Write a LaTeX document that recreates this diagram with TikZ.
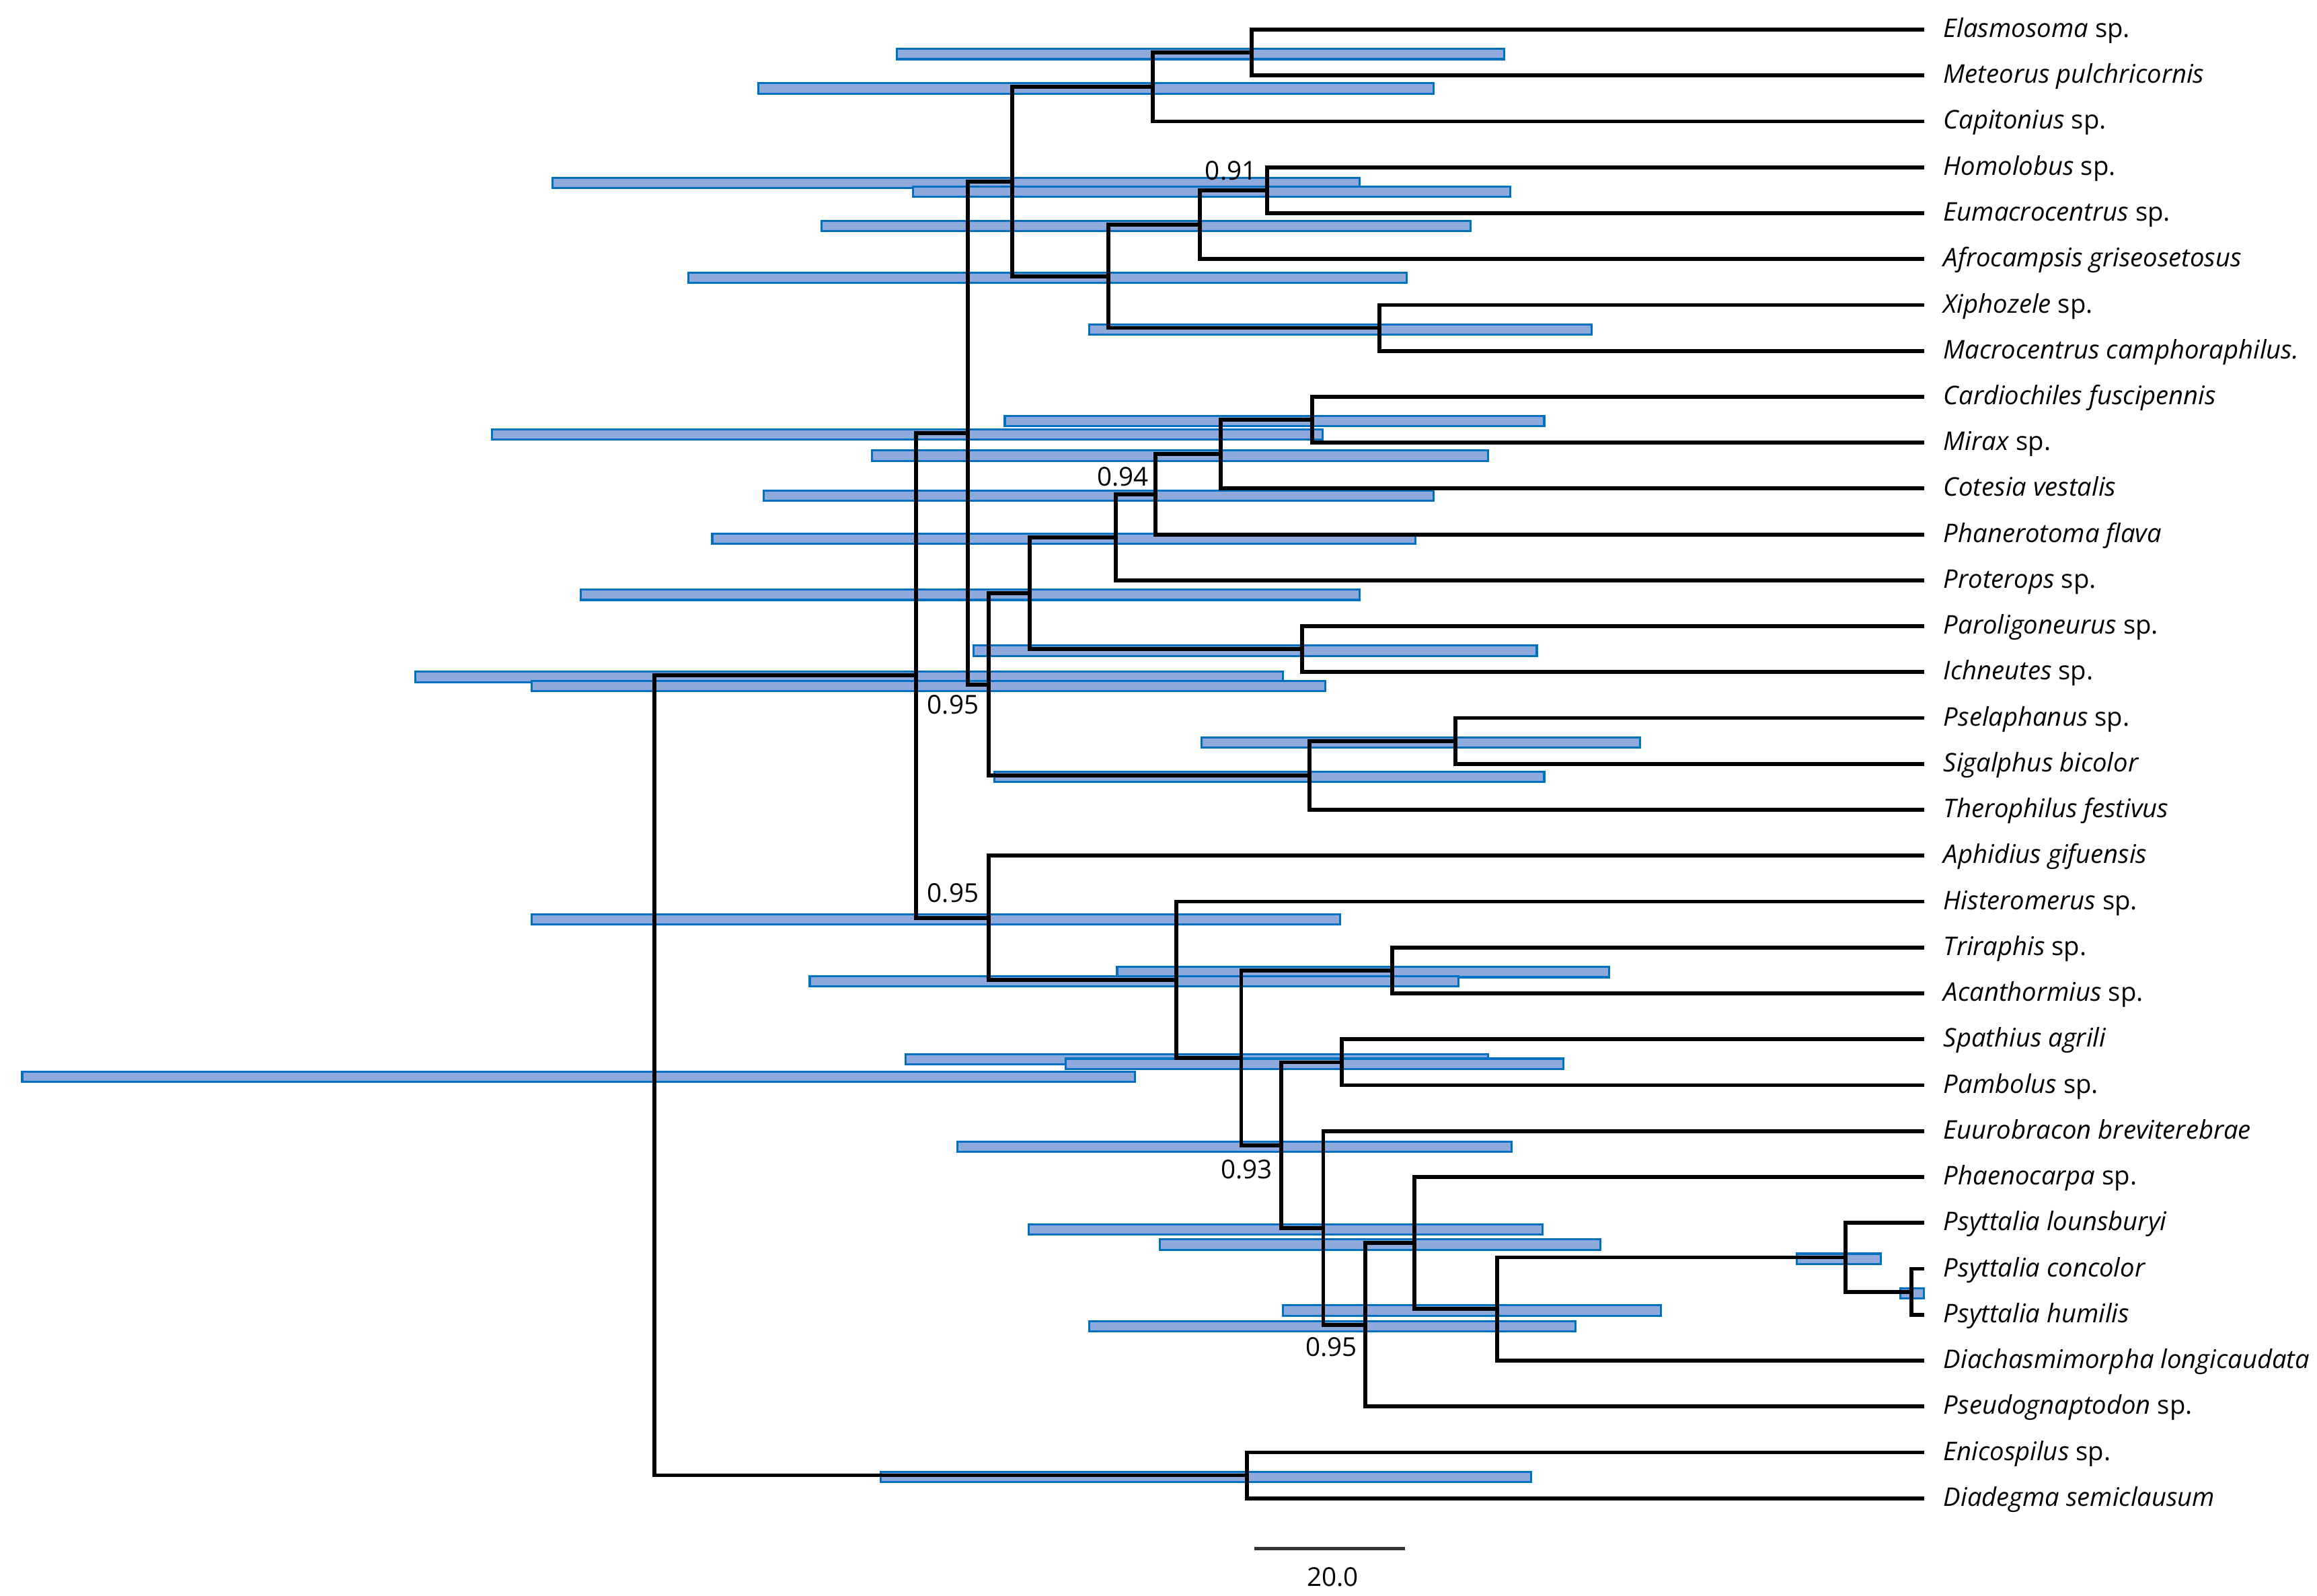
\documentclass[tikz,border=0pt]{standalone}
\usepackage{fontspec}
\setmainfont{Open Sans}
\usetikzlibrary{positioning}
\definecolor{hpdfill}{HTML}{8EA9DB}
\definecolor{hpdline}{HTML}{0070C0}
\tikzstyle{taxon} = [inner sep=0pt, text height=8pt, text depth=2pt, font=\fontsize{9.9}{12}\selectfont]
\tikzstyle{support} = [inner sep=0pt, font=\fontsize{10}{12}\selectfont]
\tikzstyle{branch} = [line width=1.5pt, black]
\tikzstyle{hpd} = [draw=hpdline, fill=hpdfill, line width=0.8pt]
\tikzstyle{scalebar} = [line width=1.2pt, black!80]
\newcommand{\gsp}[1]{\textit{#1} sp.}
\newcommand{\hpdbar}[3]{\draw [hpd] (#2,0|-#1) ++(0,-2.5) rectangle ++({#3-#2},7);}

\begin{document}
\begin{tikzpicture}[x=0.02cm, y=-0.02cm]
\useasboundingbox (0,0) rectangle (1568,1080);

% tips
\coordinate (t0) at (1302,20.0);
\coordinate (t1) at (1302,51.1);
\coordinate (t2) at (1302,82.1);
\coordinate (t3) at (1302,113.2);
\coordinate (t4) at (1302,144.2);
\coordinate (t5) at (1302,175.3);
\coordinate (t6) at (1302,206.4);
\coordinate (t7) at (1302,237.4);
\coordinate (t8) at (1302,268.5);
\coordinate (t9) at (1302,299.5);
\coordinate (t10) at (1302,330.6);
\coordinate (t11) at (1302,361.7);
\coordinate (t12) at (1302,392.7);
\coordinate (t13) at (1302,423.8);
\coordinate (t14) at (1302,454.8);
\coordinate (t15) at (1302,485.9);
\coordinate (t16) at (1302,517.0);
\coordinate (t17) at (1302,548.0);
\coordinate (t18) at (1302,579.1);
\coordinate (t19) at (1302,610.1);
\coordinate (t20) at (1302,641.2);
\coordinate (t21) at (1302,672.3);
\coordinate (t22) at (1302,703.3);
\coordinate (t23) at (1302,734.4);
\coordinate (t24) at (1302,765.4);
\coordinate (t25) at (1302,796.5);
\coordinate (t26) at (1302,827.6);
\coordinate (t27) at (1302,858.6);
\coordinate (t28) at (1302,889.7);
\coordinate (t29) at (1302,920.7);
\coordinate (t30) at (1302,951.8);
\coordinate (t31) at (1302,982.9);
\coordinate (t32) at (1302,1013.9);

% internal nodes
\coordinate (n1) at (847,35.55);
\coordinate (n2) at (780,58.8);
\coordinate (n7) at (857.5,128.7);
\coordinate (n6) at (812,152.0);
\coordinate (n8) at (933.5,221.9);
\coordinate (n5) at (750,187.0);
\coordinate (n3) at (685,122.9);
\coordinate (n15) at (888,284.0);
\coordinate (n14) at (826,307.3);
\coordinate (n13) at (782,334.5);
\coordinate (n12) at (755,363.6);
\coordinate (nIch) at (881,439.3);
\coordinate (n11) at (697,401.5);
\coordinate (nPsel) at (985,501.5);
\coordinate (nSig) at (886,524.8);
\coordinate (n10) at (669,463.2);
\coordinate (n9) at (655,293.1);
\coordinate (nAcan) at (942,656.8);
\coordinate (nPamb) at (908,718.9);
\coordinate (nCon) at (1293.6,874.2);
\coordinate (nPsy) at (1249,850.9);
\coordinate (nDia) at (1013,885.8);
\coordinate (nPhae) at (957,841.2);
\coordinate (nPse) at (924,896.5);
\coordinate (nEuu) at (895.5,831.0);
\coordinate (nSpa) at (867,775.0);
\coordinate (nTri) at (840,715.9);
\coordinate (nHist) at (796,663.0);
\coordinate (nLow) at (669,621.1);
\coordinate (nBig) at (620,457.1);
\coordinate (nOut) at (843.7,998.4);
\coordinate (root) at (443,727.8);

% 95% HPD bars
\hpdbar{n1}{607}{1018}
\hpdbar{n2}{513}{970}
\hpdbar{n3}{374}{920}
\hpdbar{n7}{618}{1022}
\hpdbar{n6}{556}{995}
\hpdbar{n5}{466}{952}
\hpdbar{n8}{737}{1077}
\hpdbar{n15}{680}{1045}
\hpdbar{n9}{333}{895}
\hpdbar{n14}{590}{1007}
\hpdbar{n13}{517}{970}
\hpdbar{n12}{482}{958}
\hpdbar{n11}{393}{920}
\hpdbar{nIch}{659}{1040}
\hpdbar{nBig}{281}{868}
\hpdbar{n10}{360}{897}
\hpdbar{nPsel}{813}{1110}
\hpdbar{nSig}{673}{1045}
\hpdbar{nLow}{360}{907}
\hpdbar{nAcan}{756}{1089}
\hpdbar{nHist}{548}{987}
\hpdbar{nTri}{613}{1007}
\hpdbar{nPamb}{721}{1058}
\hpdbar{root}{15}{768}
\hpdbar{nSpa}{648}{1023}
\hpdbar{nEuu}{696}{1044}
\hpdbar{nPhae}{785}{1083}
\hpdbar{nDia}{868}{1124}
\hpdbar{nPse}{737}{1066}
\hpdbar{nPsy}{1216}{1273}
\hpdbar{nCon}{1286}{1302}
\hpdbar{nOut}{596}{1036}

% branches
\draw [branch] (t0) -| (n1) |- (t1);
\draw [branch] (n1) -| (n2) |- (t2);
\draw [branch] (t3) -| (n7) |- (t4);
\draw [branch] (n7) -| (n6) |- (t5);
\draw [branch] (t6) -| (n8) |- (t7);
\draw [branch] (n6) -| (n5) |- (n8);
\draw [branch] (n2) -| (n3) |- (n5);
\draw [branch] (t8) -| (n15) |- (t9);
\draw [branch] (n15) -| (n14) |- (t10);
\draw [branch] (n14) -| (n13) |- (t11);
\draw [branch] (n13) -| (n12) |- (t12);
\draw [branch] (t13) -| (nIch) |- (t14);
\draw [branch] (n12) -| (n11) |- (nIch);
\draw [branch] (t15) -| (nPsel) |- (t16);
\draw [branch] (nPsel) -| (nSig) |- (t17);
\draw [branch] (n11) -| (n10) |- (nSig);
\draw [branch] (n3) -| (n9) |- (n10);
\draw [branch] (t20) -| (nAcan) |- (t21);
\draw [branch] (t22) -| (nPamb) |- (t23);
\draw [branch] (t27) -| (nCon) |- (t28);
\draw [branch] (t26) -| (nPsy) |- (nCon);
\draw [branch] (nPsy) -| (nDia) |- (t29);
\draw [branch] (t25) -| (nPhae) |- (nDia);
\draw [branch] (nPhae) -| (nPse) |- (t30);
\draw [branch] (t24) -| (nEuu) |- (nPse);
\draw [branch] (nPamb) -| (nSpa) |- (nEuu);
\draw [branch] (nAcan) -| (nTri) |- (nSpa);
\draw [branch] (t19) -| (nHist) |- (nTri);
\draw [branch] (t18) -| (nLow) |- (nHist);
\draw [branch] (n9) -| (nBig) |- (nLow);
\draw [branch] (t31) -| (nOut) |- (t32);
\draw [branch] (nBig) -| (root) |- (nOut);

% taxon labels
\node (l0) [taxon, right=0.26cm of t0] {\gsp{Elasmosoma}};
\node (l1) [taxon, right=0.26cm of t1] {\textit{Meteorus pulchricornis}};
\node (l2) [taxon, right=0.26cm of t2] {\gsp{Capitonius}};
\node (l3) [taxon, right=0.26cm of t3] {\gsp{Homolobus}};
\node (l4) [taxon, right=0.26cm of t4] {\gsp{Eumacrocentrus}};
\node (l5) [taxon, right=0.26cm of t5] {\textit{Afrocampsis griseosetosus}};
\node (l6) [taxon, right=0.26cm of t6] {\gsp{Xiphozele}};
\node (l7) [taxon, right=0.26cm of t7] {\textit{Macrocentrus camphoraphilus.}};
\node (l8) [taxon, right=0.26cm of t8] {\textit{Cardiochiles fuscipennis}};
\node (l9) [taxon, right=0.26cm of t9] {\gsp{Mirax}};
\node (l10) [taxon, right=0.26cm of t10] {\textit{Cotesia vestalis}};
\node (l11) [taxon, right=0.26cm of t11] {\textit{Phanerotoma flava}};
\node (l12) [taxon, right=0.26cm of t12] {\gsp{Proterops}};
\node (l13) [taxon, right=0.26cm of t13] {\gsp{Paroligoneurus}};
\node (l14) [taxon, right=0.26cm of t14] {\gsp{Ichneutes}};
\node (l15) [taxon, right=0.26cm of t15] {\gsp{Pselaphanus}};
\node (l16) [taxon, right=0.26cm of t16] {\textit{Sigalphus bicolor}};
\node (l17) [taxon, right=0.26cm of t17] {\textit{Therophilus festivus}};
\node (l18) [taxon, right=0.26cm of t18] {\textit{Aphidius gifuensis}};
\node (l19) [taxon, right=0.26cm of t19] {\gsp{Histeromerus}};
\node (l20) [taxon, right=0.26cm of t20] {\gsp{Triraphis}};
\node (l21) [taxon, right=0.26cm of t21] {\gsp{Acanthormius}};
\node (l22) [taxon, right=0.26cm of t22] {\textit{Spathius agrili}};
\node (l23) [taxon, right=0.26cm of t23] {\gsp{Pambolus}};
\node (l24) [taxon, right=0.26cm of t24] {\textit{Euurobracon breviterebrae}};
\node (l25) [taxon, right=0.26cm of t25] {\gsp{Phaenocarpa}};
\node (l26) [taxon, right=0.26cm of t26] {\textit{Psyttalia lounsburyi}};
\node (l27) [taxon, right=0.26cm of t27] {\textit{Psyttalia concolor}};
\node (l28) [taxon, right=0.26cm of t28] {\textit{Psyttalia humilis}};
\node (l29) [taxon, right=0.26cm of t29] {\textit{Diachasmimorpha longicaudata}};
\node (l30) [taxon, right=0.26cm of t30] {\gsp{Pseudognaptodon}};
\node (l31) [taxon, right=0.26cm of t31] {\gsp{Enicospilus}};
\node (l32) [taxon, right=0.26cm of t32] {\textit{Diadegma semiclausum}};

% posterior support
\node (s1) [support] at (833,115.4) {0.91};
\node (s2) [support] at (760,322.8) {0.94};
\node (s3) [support] at (645,476.8) {0.95};
\node (s4) [support] at (645,604.5) {0.95};
\node (s5) [support] at (843.7,791.5) {0.93};
\node (s6) [support] at (901,911.7) {0.95};

% scale
\coordinate (sbl) at (849,1048);
\coordinate (sbr) at (951,1048);
\draw [scalebar] (sbl) -- (sbr);
\node (sbt) [support] at (902,1067) {20.0};

\end{tikzpicture}
\end{document}
